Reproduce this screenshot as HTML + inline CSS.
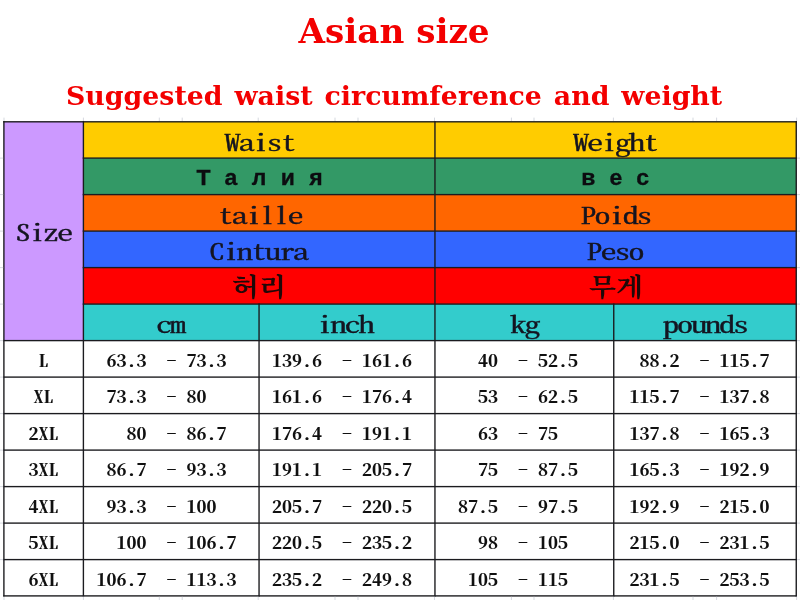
<!DOCTYPE html>
<html lang="en">
<head>
<meta charset="utf-8">
<title>Asian size chart</title>
<style>
html,body{margin:0;padding:0;background:#fff;}
body{width:800px;height:600px;position:relative;overflow:hidden;font-family:"Liberation Serif","Noto Serif CJK SC",serif;}
svg{position:absolute;left:0;top:0;}
h1,h2{margin:0;position:absolute;color:#f30000;font-family:"DejaVu Serif","Liberation Serif",serif;font-weight:bold;white-space:nowrap;}
h1{font-size:34.2px;line-height:40px;top:11px;left:298.5px;}
h2{font-size:26.8px;word-spacing:2.6px;line-height:34px;top:79px;left:66px;}
.t{position:absolute;white-space:pre;margin:0;}
.hd{font-family:"Noto Serif CJK SC","Liberation Mono",serif;font-feature-settings:"hwid";font-size:32px;letter-spacing:-2px;line-height:36px;height:36px;color:#141420;-webkit-text-stroke:0.6px #141420;transform:scaleY(.69);transform-origin:0 0;}
.ru{font-family:"Liberation Sans",sans-serif;font-weight:bold;font-size:23px;line-height:36px;height:36px;letter-spacing:14.4px;color:#0c0c10;-webkit-text-stroke:0.3px #0c0c10;transform:scaleY(.95);transform-origin:0 0;}
.ko{font-family:"Noto Serif CJK SC","Noto Serif CJK KR","NanumGothic",serif;font-weight:700;font-size:28px;line-height:36px;height:36px;color:#200808;transform:scaleY(.9);transform-origin:0 0;}
.d{font-family:"Noto Serif CJK SC","Liberation Mono",serif;font-feature-settings:"hwid";font-weight:bold;font-size:20px;line-height:36px;height:36px;color:#101010;transform:scaleY(.85);transform-origin:0 0;}
</style>
</head>
<body>
<svg width="800" height="600" viewBox="0 0 800 600">
<rect x="3.90" y="121.80" width="79.50" height="218.80" fill="#cc99ff"/>
<rect x="83.40" y="121.80" width="712.85" height="36.30" fill="#ffcc00"/>
<rect x="83.40" y="158.10" width="712.85" height="36.50" fill="#339966"/>
<rect x="83.40" y="194.60" width="712.85" height="36.50" fill="#ff6600"/>
<rect x="83.40" y="231.10" width="712.85" height="36.50" fill="#3366ff"/>
<rect x="83.40" y="267.60" width="712.85" height="36.50" fill="#ff0000"/>
<rect x="83.40" y="304.10" width="712.85" height="36.50" fill="#33cccc"/>
<rect x="3.21" y="121.11" width="793.73" height="1.38" fill="#1b1b1f"/>
<rect x="82.71" y="157.41" width="714.23" height="1.38" fill="#1b1b1f"/>
<rect x="82.71" y="193.91" width="714.23" height="1.38" fill="#1b1b1f"/>
<rect x="82.71" y="230.41" width="714.23" height="1.38" fill="#1b1b1f"/>
<rect x="82.71" y="266.91" width="714.23" height="1.38" fill="#1b1b1f"/>
<rect x="82.71" y="303.41" width="714.23" height="1.38" fill="#1b1b1f"/>
<rect x="3.21" y="339.91" width="793.73" height="1.38" fill="#1b1b1f"/>
<rect x="3.21" y="376.41" width="793.73" height="1.38" fill="#1b1b1f"/>
<rect x="3.21" y="412.91" width="793.73" height="1.38" fill="#1b1b1f"/>
<rect x="3.21" y="449.41" width="793.73" height="1.38" fill="#1b1b1f"/>
<rect x="3.21" y="485.91" width="793.73" height="1.38" fill="#1b1b1f"/>
<rect x="3.21" y="522.41" width="793.73" height="1.38" fill="#1b1b1f"/>
<rect x="3.21" y="558.91" width="793.73" height="1.38" fill="#1b1b1f"/>
<rect x="3.21" y="595.21" width="793.73" height="1.38" fill="#1b1b1f"/>
<rect x="3.21" y="121.11" width="1.38" height="475.48" fill="#1b1b1f"/>
<rect x="82.71" y="121.11" width="1.38" height="475.48" fill="#1b1b1f"/>
<rect x="795.56" y="121.11" width="1.38" height="475.48" fill="#1b1b1f"/>
<rect x="434.26" y="121.11" width="1.38" height="475.48" fill="#1b1b1f"/>
<rect x="258.36" y="303.41" width="1.38" height="293.18" fill="#1b1b1f"/>
<rect x="613.06" y="303.41" width="1.38" height="293.18" fill="#1b1b1f"/>
<rect x="3.50" y="117.60" width="1.00" height="3.40" fill="#d6d9e0"/>
<rect x="3.50" y="596.80" width="1.00" height="3.20" fill="#d6d9e0"/>
<rect x="82.90" y="117.60" width="1.00" height="3.40" fill="#d6d9e0"/>
<rect x="82.90" y="596.80" width="1.00" height="3.20" fill="#d6d9e0"/>
<rect x="158.80" y="117.60" width="1.00" height="3.40" fill="#d6d9e0"/>
<rect x="158.80" y="596.80" width="1.00" height="3.20" fill="#d6d9e0"/>
<rect x="181.70" y="117.60" width="1.00" height="3.40" fill="#d6d9e0"/>
<rect x="181.70" y="596.80" width="1.00" height="3.20" fill="#d6d9e0"/>
<rect x="257.70" y="117.60" width="1.00" height="3.40" fill="#d6d9e0"/>
<rect x="257.70" y="596.80" width="1.00" height="3.20" fill="#d6d9e0"/>
<rect x="334.50" y="117.60" width="1.00" height="3.40" fill="#d6d9e0"/>
<rect x="334.50" y="596.80" width="1.00" height="3.20" fill="#d6d9e0"/>
<rect x="357.50" y="117.60" width="1.00" height="3.40" fill="#d6d9e0"/>
<rect x="357.50" y="596.80" width="1.00" height="3.20" fill="#d6d9e0"/>
<rect x="434.00" y="117.60" width="1.00" height="3.40" fill="#d6d9e0"/>
<rect x="434.00" y="596.80" width="1.00" height="3.20" fill="#d6d9e0"/>
<rect x="510.90" y="117.60" width="1.00" height="3.40" fill="#d6d9e0"/>
<rect x="510.90" y="596.80" width="1.00" height="3.20" fill="#d6d9e0"/>
<rect x="533.50" y="117.60" width="1.00" height="3.40" fill="#d6d9e0"/>
<rect x="533.50" y="596.80" width="1.00" height="3.20" fill="#d6d9e0"/>
<rect x="612.90" y="117.60" width="1.00" height="3.40" fill="#d6d9e0"/>
<rect x="612.90" y="596.80" width="1.00" height="3.20" fill="#d6d9e0"/>
<rect x="692.50" y="117.60" width="1.00" height="3.40" fill="#d6d9e0"/>
<rect x="692.50" y="596.80" width="1.00" height="3.20" fill="#d6d9e0"/>
<rect x="716.10" y="117.60" width="1.00" height="3.40" fill="#d6d9e0"/>
<rect x="716.10" y="596.80" width="1.00" height="3.20" fill="#d6d9e0"/>
<rect x="796.10" y="117.60" width="1.00" height="3.40" fill="#d6d9e0"/>
<rect x="796.10" y="596.80" width="1.00" height="3.20" fill="#d6d9e0"/>
<rect x="0.00" y="157.60" width="3.10" height="1.00" fill="#d6d9e0"/>
<rect x="797.10" y="157.60" width="2.90" height="1.00" fill="#d6d9e0"/>
<rect x="0.00" y="194.10" width="3.10" height="1.00" fill="#d6d9e0"/>
<rect x="797.10" y="194.10" width="2.90" height="1.00" fill="#d6d9e0"/>
<rect x="0.00" y="230.60" width="3.10" height="1.00" fill="#d6d9e0"/>
<rect x="797.10" y="230.60" width="2.90" height="1.00" fill="#d6d9e0"/>
<rect x="0.00" y="267.10" width="3.10" height="1.00" fill="#d6d9e0"/>
<rect x="797.10" y="267.10" width="2.90" height="1.00" fill="#d6d9e0"/>
<rect x="0.00" y="303.60" width="3.10" height="1.00" fill="#d6d9e0"/>
<rect x="797.10" y="303.60" width="2.90" height="1.00" fill="#d6d9e0"/>
<rect x="0.00" y="340.10" width="3.10" height="1.00" fill="#d6d9e0"/>
<rect x="797.10" y="340.10" width="2.90" height="1.00" fill="#d6d9e0"/>
<rect x="0.00" y="376.60" width="3.10" height="1.00" fill="#d6d9e0"/>
<rect x="797.10" y="376.60" width="2.90" height="1.00" fill="#d6d9e0"/>
<rect x="0.00" y="413.10" width="3.10" height="1.00" fill="#d6d9e0"/>
<rect x="797.10" y="413.10" width="2.90" height="1.00" fill="#d6d9e0"/>
<rect x="0.00" y="449.60" width="3.10" height="1.00" fill="#d6d9e0"/>
<rect x="797.10" y="449.60" width="2.90" height="1.00" fill="#d6d9e0"/>
<rect x="0.00" y="486.10" width="3.10" height="1.00" fill="#d6d9e0"/>
<rect x="797.10" y="486.10" width="2.90" height="1.00" fill="#d6d9e0"/>
<rect x="0.00" y="522.60" width="3.10" height="1.00" fill="#d6d9e0"/>
<rect x="797.10" y="522.60" width="2.90" height="1.00" fill="#d6d9e0"/>
<rect x="0.00" y="559.10" width="3.10" height="1.00" fill="#d6d9e0"/>
<rect x="797.10" y="559.10" width="2.90" height="1.00" fill="#d6d9e0"/>
</svg>
<h1>Asian size</h1>
<h2>Suggested waist circumference and weight</h2>
<div class="t hd" style="left:15px;top:219.4px">Size</div>
<div class="t hd" style="left:224.5px;top:128.9px">Waist</div>
<div class="t hd" style="left:573.0px;top:128.9px">Weight</div>
<div class="t hd" style="left:217.6px;top:201.7px">taille</div>
<div class="t hd" style="left:580.5px;top:201.7px">Poids</div>
<div class="t hd" style="left:208.8px;top:238.2px">Cintura</div>
<div class="t hd" style="left:586.5px;top:238.2px">Peso</div>
<div class="t hd" style="left:156.0px;top:311.2px">cm</div>
<div class="t hd" style="left:316.5px;top:311.2px">inch</div>
<div class="t hd" style="left:510.5px;top:311.2px">kg</div>
<div class="t hd" style="left:663.0px;top:311.2px">pounds</div>
<div class="t ru" style="left:196.6px;top:160.0px">Талия</div>
<div class="t ru" style="left:581.2px;top:160.0px">вес</div>
<div class="t ko" style="left:232px;top:268.8px">허리</div>
<div class="t ko" style="left:589px;top:268.6px">무게</div>
<div class="t d" style="left:38.5px;top:344.5px">L</div>
<div class="t d" style="left:106.5px;top:344.5px">63.3  - 73.3</div>
<div class="t d" style="left:272px;top:344.5px">139.6  - 161.6</div>
<div class="t d" style="left:478px;top:344.5px">40  - 52.5</div>
<div class="t d" style="left:639.5px;top:344.5px">88.2  - 115.7</div>
<div class="t d" style="left:33.5px;top:381.0px">XL</div>
<div class="t d" style="left:106.5px;top:381.0px">73.3  - 80</div>
<div class="t d" style="left:272px;top:381.0px">161.6  - 176.4</div>
<div class="t d" style="left:478px;top:381.0px">53  - 62.5</div>
<div class="t d" style="left:629.5px;top:381.0px">115.7  - 137.8</div>
<div class="t d" style="left:28.5px;top:417.5px">2XL</div>
<div class="t d" style="left:126.5px;top:417.5px">80  - 86.7</div>
<div class="t d" style="left:272px;top:417.5px">176.4  - 191.1</div>
<div class="t d" style="left:478px;top:417.5px">63  - 75</div>
<div class="t d" style="left:629.5px;top:417.5px">137.8  - 165.3</div>
<div class="t d" style="left:28.5px;top:454.0px">3XL</div>
<div class="t d" style="left:106.5px;top:454.0px">86.7  - 93.3</div>
<div class="t d" style="left:272px;top:454.0px">191.1  - 205.7</div>
<div class="t d" style="left:478px;top:454.0px">75  - 87.5</div>
<div class="t d" style="left:629.5px;top:454.0px">165.3  - 192.9</div>
<div class="t d" style="left:28.5px;top:490.5px">4XL</div>
<div class="t d" style="left:106.5px;top:490.5px">93.3  - 100</div>
<div class="t d" style="left:272px;top:490.5px">205.7  - 220.5</div>
<div class="t d" style="left:458px;top:490.5px">87.5  - 97.5</div>
<div class="t d" style="left:629.5px;top:490.5px">192.9  - 215.0</div>
<div class="t d" style="left:28.5px;top:527.0px">5XL</div>
<div class="t d" style="left:116.5px;top:527.0px">100  - 106.7</div>
<div class="t d" style="left:272px;top:527.0px">220.5  - 235.2</div>
<div class="t d" style="left:478px;top:527.0px">98  - 105</div>
<div class="t d" style="left:629.5px;top:527.0px">215.0  - 231.5</div>
<div class="t d" style="left:28.5px;top:563.5px">6XL</div>
<div class="t d" style="left:96.5px;top:563.5px">106.7  - 113.3</div>
<div class="t d" style="left:272px;top:563.5px">235.2  - 249.8</div>
<div class="t d" style="left:468px;top:563.5px">105  - 115</div>
<div class="t d" style="left:629.5px;top:563.5px">231.5  - 253.5</div>
</body>
</html>
